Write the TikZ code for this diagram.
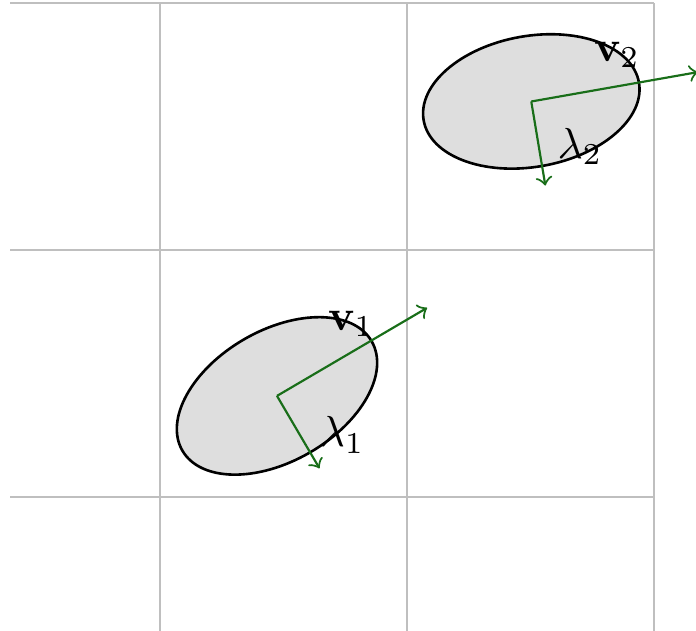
\documentclass[tikz,border=0pt]{standalone}
\usepackage{amsmath,amssymb}
\usetikzlibrary{positioning,calc}
\definecolor{VecGreen}{RGB}{25,110,25}
\definecolor{BlobGray}{RGB}{222,222,222}
\tikzset{
  gridline/.style={draw=black!25,line width=0.5pt},
  blob/.style={draw=black,fill=BlobGray,line width=0.6pt},
  axis/.style={draw=VecGreen,line width=0.5pt,->},
}
\tikzset{lab/.style={inner sep=0pt,font=\normalsize}}

\begin{document}
\begin{tikzpicture}
\useasboundingbox (-1.296,-1.085) rectangle (4.340,4.024);
\foreach \y in {0,2,4}{\draw[gridline] (-1.215,\y) -- (4,\y);}
\foreach \x in {0,2,4}{\draw[gridline] (\x,-1.085) -- (\x,4);}
\coordinate (c1) at (0.947,0.818);\coordinate (c2) at (3.006,3.202);
\draw[blob,rotate around={30:(c1)}] (c1) ellipse (0.885 and 0.53);
\draw[blob,rotate around={10:(c2)}] (c2) ellipse (0.885 and 0.53);
\coordinate (v1) at ($(c1)+(30.4:1.41)$);\coordinate (l1) at ($(c1)+(-59.6:0.68)$);
\coordinate (v2) at ($(c2)+(10:1.37)$);\coordinate (l2) at ($(c2)+(-80.5:0.69)$);
\draw[axis] (c1) -- (v1);\draw[axis] (c1) -- (l1);
\draw[axis] (c2) -- (v2);\draw[axis] (c2) -- (l2);
\node[lab](v1lab) at (1.547,1.40){$\mathbf{v}_1$};\node[lab](l1lab) at (1.474,0.50){$\lambda_1$};
\node[lab](v2lab) at (3.700,3.58){$\mathbf{v}_2$};\node[lab](l2lab) at (3.401,2.84){$\lambda_2$};
\end{tikzpicture}
\end{document}
